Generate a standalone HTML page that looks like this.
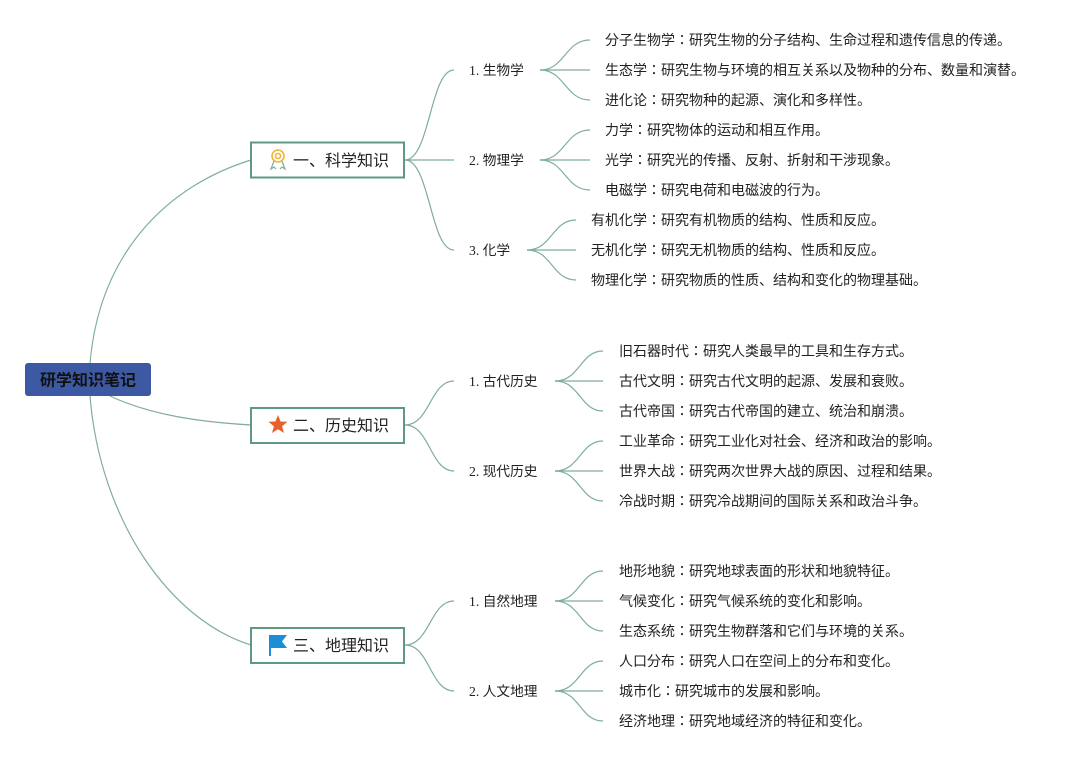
<!DOCTYPE html>
<html><head><meta charset="utf-8"><style>
html,body{margin:0;padding:0;background:#fff;width:1085px;height:760px;overflow:hidden}
svg{display:block}
text{font-family:"Liberation Sans","Noto Sans CJK JP",sans-serif;fill:#222}
.l{font-size:14px}
.s{font-size:13.7px;font-family:"Liberation Serif","Noto Sans CJK JP",serif}
.m{font-size:16px}
path{fill:none;stroke:#7fae9e;stroke-width:1.2}
</style></head><body>
<svg width="1085" height="760" viewBox="0 0 1085 760" xmlns="http://www.w3.org/2000/svg">
<path d="M90 363 C100 250 170 185 251 160"/>
<path d="M110 396 C150 415 200 422 251 425"/>
<path d="M90 396 C100 520 170 620 251 645"/>
<path d="M405 160 C430 160 430 70 454 70"/>
<path d="M405 160 L454 160"/>
<path d="M405 160 C430 160 430 250 454 250"/>
<path d="M405 425 C430 425 430 381 454 381"/>
<path d="M405 425 C430 425 430 471 454 471"/>
<path d="M405 645 C430 645 430 601 454 601"/>
<path d="M405 645 C430 645 430 691 454 691"/>
<g>
<path d="M540 70 C565 70 565 40 590 40"/><path d="M540 70 L590 70"/><path d="M540 70 C565 70 565 100 590 100"/>
<path d="M540 160 C565 160 565 130 590 130"/><path d="M540 160 L590 160"/><path d="M540 160 C565 160 565 190 590 190"/>
<path d="M527 250 C552 250 552 220 576 220"/><path d="M527 250 L576 250"/><path d="M527 250 C552 250 552 280 576 280"/>
<path d="M555 381 C580 381 580 351 603 351"/><path d="M555 381 L603 381"/><path d="M555 381 C580 381 580 411 603 411"/>
<path d="M555 471 C580 471 580 441 603 441"/><path d="M555 471 L603 471"/><path d="M555 471 C580 471 580 501 603 501"/>
<path d="M555 601 C580 601 580 571 603 571"/><path d="M555 601 L603 601"/><path d="M555 601 C580 601 580 631 603 631"/>
<path d="M555 691 C580 691 580 661 603 661"/><path d="M555 691 L603 691"/><path d="M555 691 C580 691 580 721 603 721"/>
</g>
<rect x="25" y="363" width="126" height="33" rx="3" fill="#3e59a3"/>
<text x="88" y="385.5" text-anchor="middle" style="font-size:16px;font-weight:bold;fill:#111">研学知识笔记</text>
<rect x="251" y="142.5" width="153" height="35" fill="#fff" stroke="#5f9986" stroke-width="2"/>
<rect x="251" y="408" width="153" height="35" fill="#fff" stroke="#5f9986" stroke-width="2"/>
<rect x="251" y="628" width="153" height="35" fill="#fff" stroke="#5f9986" stroke-width="2"/>
<g fill="none" stroke="#f2b630" stroke-width="1.6">
<circle cx="278" cy="156" r="6"/><circle cx="278" cy="156" r="2.5"/>
<path d="M274 161 L271 169 L274 167 L276 169 M282 161 L285 169 L282 167 L280 169" stroke="#f2b630"/>
</g>
<polygon points="278,415 280.6,421.5 287.5,421.8 282.1,426.2 284,433 278,429.2 272,433 273.9,426.2 268.5,421.8 275.4,421.5" fill="#e8612c"/>
<path d="M270 635 L270 656" style="stroke:#1a8fd8;stroke-width:2"/>
<path d="M270 635 L287 635 L282 641.5 L287 648 L270 648 Z" style="fill:#1a8fd8;stroke:none"/>
<text class="m" x="293" y="166">一、科学知识</text>
<text class="m" x="293" y="431">二、历史知识</text>
<text class="m" x="293" y="651">三、地理知识</text>
<text class="s" x="469" y="75">1. 生物学</text>
<text class="s" x="469" y="165">2. 物理学</text>
<text class="s" x="469" y="255">3. 化学</text>
<text class="s" x="469" y="386">1. 古代历史</text>
<text class="s" x="469" y="476">2. 现代历史</text>
<text class="s" x="469" y="606">1. 自然地理</text>
<text class="s" x="469" y="696">2. 人文地理</text>
<text class="l" x="605" y="45">分子生物学：研究生物的分子结构、生命过程和遗传信息的传递。</text>
<text class="l" x="605" y="75">生态学：研究生物与环境的相互关系以及物种的分布、数量和演替。</text>
<text class="l" x="605" y="105">进化论：研究物种的起源、演化和多样性。</text>
<text class="l" x="605" y="135">力学：研究物体的运动和相互作用。</text>
<text class="l" x="605" y="165">光学：研究光的传播、反射、折射和干涉现象。</text>
<text class="l" x="605" y="195">电磁学：研究电荷和电磁波的行为。</text>
<text class="l" x="591" y="225">有机化学：研究有机物质的结构、性质和反应。</text>
<text class="l" x="591" y="255">无机化学：研究无机物质的结构、性质和反应。</text>
<text class="l" x="591" y="285">物理化学：研究物质的性质、结构和变化的物理基础。</text>
<text class="l" x="619" y="356">旧石器时代：研究人类最早的工具和生存方式。</text>
<text class="l" x="619" y="386">古代文明：研究古代文明的起源、发展和衰败。</text>
<text class="l" x="619" y="416">古代帝国：研究古代帝国的建立、统治和崩溃。</text>
<text class="l" x="619" y="446">工业革命：研究工业化对社会、经济和政治的影响。</text>
<text class="l" x="619" y="476">世界大战：研究两次世界大战的原因、过程和结果。</text>
<text class="l" x="619" y="506">冷战时期：研究冷战期间的国际关系和政治斗争。</text>
<text class="l" x="619" y="576">地形地貌：研究地球表面的形状和地貌特征。</text>
<text class="l" x="619" y="606">气候变化：研究气候系统的变化和影响。</text>
<text class="l" x="619" y="636">生态系统：研究生物群落和它们与环境的关系。</text>
<text class="l" x="619" y="666">人口分布：研究人口在空间上的分布和变化。</text>
<text class="l" x="619" y="696">城市化：研究城市的发展和影响。</text>
<text class="l" x="619" y="726">经济地理：研究地域经济的特征和变化。</text>
</svg>
</body></html>
